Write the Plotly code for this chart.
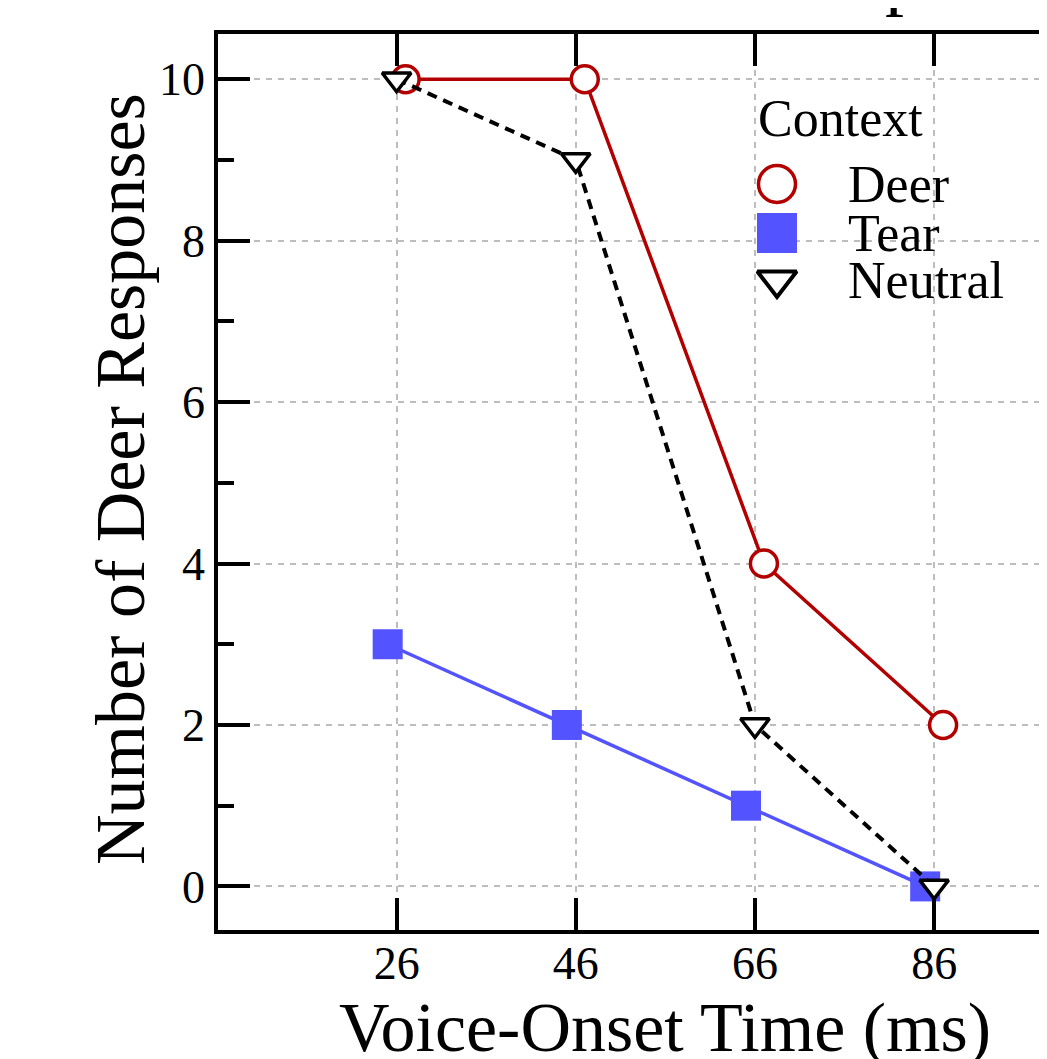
import plotly.graph_objects as go

# ---- data ----
vot = [26, 46, 66, 86]
deer = [10, 10, 4, 2]
tear = [3, 2, 1, 0]
neutral = [10, 9, 2, 0]
series_names = ["Deer", "Tear", "Neutral"]
x_ticks = [26, 46, 66, 86]
y_ticks = [0, 2, 4, 6, 8, 10]

# ---- styling / layout constants ----
OFF = 8                      # page body margin offset
W, H = 1047 - OFF, 1059 - OFF
ML, MR, MT, MB = 218 - OFF, 0, 34 - OFF, 129
FONT = "Liberation Serif, Times New Roman, serif"
RED = "#B20000"
BLUE = "#5353FF"
dodge = {"Deer": 1.0, "Tear": -1.0, "Neutral": 0.0}
X_RANGE = [6.06, 98.6]
FULL_X_CENTER = 56           # centre of the (cropped) full x range

pw = W - ML - MR
ph = H - MT - MB


def px_x(p):  # reference pixel -> paper fraction
    return (p - OFF - ML) / pw


def px_y(p):
    return (H - MB - (p - OFF)) / ph


fig = go.Figure()

fig.add_trace(go.Scatter(
    x=[v + dodge["Deer"] for v in vot], y=deer, name="Deer", mode="lines+markers",
    line=dict(color=RED, width=3.5),
    marker=dict(symbol="circle", size=27, color="white", line=dict(color=RED, width=3.5)),
    showlegend=False))
fig.add_trace(go.Scatter(
    x=[v + dodge["Tear"] for v in vot], y=tear, name="Tear", mode="lines+markers",
    line=dict(color=BLUE, width=3.5),
    marker=dict(symbol="square", size=30, color=BLUE, line=dict(width=0)),
    showlegend=False))
fig.add_trace(go.Scatter(
    x=[v + dodge["Neutral"] for v in vot], y=neutral, name="Neutral", mode="lines+markers",
    line=dict(color="black", width=4, dash="10px,7px"),
    marker=dict(symbol="triangle-down", size=25, color="white", line=dict(color="black", width=3.5)),
    showlegend=False))

# ---- custom legend (drawn on an invisible overlay axis in paper fractions) ----
leg_styles = [
    dict(symbol="circle", size=37, color="white", line=dict(color=RED, width=3.5)),
    dict(symbol="square", size=40, color=BLUE, line=dict(width=0)),
    dict(symbol="triangle-down", size=34, color="white", line=dict(color="black", width=4)),
]
leg_y_px = [184, 233, 280]
for name, st, yp in zip(series_names, leg_styles, leg_y_px):
    fig.add_trace(go.Scatter(
        x=[px_x(777)], y=[px_y(yp)], mode="markers", marker=st,
        xaxis="x2", yaxis="y2", showlegend=False, hoverinfo="skip"))
    fig.add_annotation(x=px_x(846), y=px_y(yp), xref="paper", yref="paper",
                       text=name, showarrow=False, xanchor="left", yanchor="middle",
                       font=dict(family=FONT, size=52, color="black"))
fig.add_annotation(x=px_x(756), y=px_y(118), xref="paper", yref="paper",
                   text="Context", showarrow=False, xanchor="left", yanchor="middle",
                   font=dict(family=FONT, size=52, color="black"))
# cut-off title glyph at the very top
fig.add_annotation(x=px_x(904), y=px_y(19), xref="paper", yref="paper",
                   text="p", showarrow=False, xanchor="center", yanchor="bottom",
                   font=dict(family=FONT, size=76, color="black"))

# axis titles (x title centred on the full, cropped x range)
fig.add_annotation(x=FULL_X_CENTER, xref="x", y=px_y(1027), yref="paper",
                   text="Voice-Onset Time (ms)", showarrow=False,
                   xanchor="center", yanchor="middle",
                   font=dict(family=FONT, size=70, color="black"))
fig.add_annotation(x=px_x(120), xref="paper", y=px_y(479), yref="paper",
                   text="Number of Deer Responses", showarrow=False, textangle=-90,
                   xanchor="center", yanchor="middle",
                   font=dict(family=FONT, size=70, color="black"))

axis_common = dict(
    showline=True, linewidth=3.5, linecolor="black",
    ticks="inside", ticklen=32, tickwidth=3.5, tickcolor="black",
    showgrid=True, gridcolor="#BDBDBD", gridwidth=1.5, griddash="6px,6px",
    zeroline=False, tickfont=dict(family=FONT, size=46, color="black"),
)

fig.update_layout(
    width=W, height=H,
    margin=dict(l=ML, r=MR, t=MT, b=MB, pad=0),
    paper_bgcolor="white", plot_bgcolor="white",
    showlegend=False,
    xaxis=dict(**axis_common, range=X_RANGE, tickvals=x_ticks, mirror="ticks",
               ticklabelstandoff=-10, automargin=False),
    yaxis=dict(**axis_common, range=[-0.54, 10.56], tickvals=y_ticks, mirror=False,
               automargin=False,
               minor=dict(ticks="inside", dtick=1, tick0=0, ticklen=16, tickwidth=3.5,
                          tickcolor="black", showgrid=False)),
    xaxis2=dict(overlaying="x", range=[0, 1], visible=False, domain=[0, 1]),
    yaxis2=dict(overlaying="y", range=[0, 1], visible=False, domain=[0, 1]),
)

fig.write_html("out.html")
